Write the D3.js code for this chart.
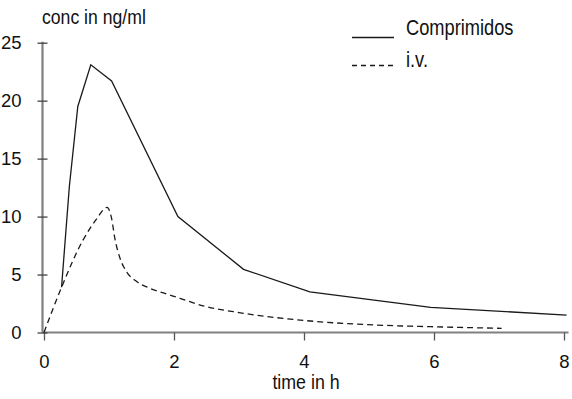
<!DOCTYPE html>
<html>
<head>
<meta charset="utf-8">
<script src="https://cdn.jsdelivr.net/npm/d3@7"></script>
<style>
  body { margin: 0; background: #fff; }
  svg { display: block; }
  text { font-family: "Liberation Sans", Arial, sans-serif; fill: #111; }
</style>
</head>
<body>
<svg id="chart" width="572" height="399"></svg>
<script>
// values
const xTicks = [0, 2, 4, 6, 8];
const yTicks = [0, 5, 10, 15, 20, 25];
const seriesNames = ["Comprimidos", "i.v."];

const comprimidosT = [0.27, 0.39, 0.52, 0.72, 1.04, 2.06, 3.07, 4.09, 5.95, 8.04];
const comprimidosC = [3.9, 12.6, 19.5, 23.1, 21.7, 10.0, 5.45, 3.5, 2.17, 1.5];

const ivT = [0, 0.27, 0.6, 0.81, 0.97, 1.04, 1.09, 1.17, 1.27, 1.43, 1.63, 1.94, 2.09, 2.45, 3.02, 4.04, 5.22, 5.95, 7.04];
const ivC = [0, 3.9, 7.97, 9.8, 10.8, 9.84, 8.12, 6.4, 5.24, 4.38, 3.81, 3.23, 2.95, 2.3, 1.7, 1.02, 0.62, 0.5, 0.36];

const svg = d3.select('#chart');

const x = d3.scaleLinear().domain([0, 8]).range([44, 564]);
const y = d3.scaleLinear().domain([0, 25]).range([332.5, 42.7]);

// axis lines
svg.append('line')
  .attr('x1', x(0) - 1.5).attr('x2', x(8.07))
  .attr('y1', y(0)).attr('y2', y(0))
  .attr('stroke', '#808080').attr('stroke-width', 2.2);
svg.append('line')
  .attr('x1', x(0) - 1.5).attr('x2', x(0) - 1.5)
  .attr('y1', y(0)).attr('y2', y(25) - 1)
  .attr('stroke', '#808080').attr('stroke-width', 2.2);

// x axis
const gx = svg.append('g')
  .attr('transform', 'translate(0,' + y(0) + ')')
  .call(d3.axisBottom(x).tickValues(xTicks).tickSize(8).tickSizeOuter(0).tickPadding(18));
gx.select('.domain').remove();
gx.selectAll('line').attr('stroke', '#555').attr('stroke-width', 1.3);
gx.selectAll('text')
  .attr('font-size', 18.5).attr('font-family', '"Liberation Sans", Arial, sans-serif')
  .attr('fill', '#111').attr('dy', '0.5em');

// y axis, ticks crossing the line
const gy = svg.append('g')
  .attr('transform', 'translate(' + (x(0) - 1.5) + ',0)')
  .call(d3.axisLeft(y).tickValues(yTicks).tickSize(5).tickSizeOuter(0).tickPadding(16));
gy.select('.domain').remove();
gy.selectAll('line').attr('x1', 5).attr('stroke', '#444').attr('stroke-width', 1.3);
gy.selectAll('text')
  .attr('font-size', 18.5).attr('font-family', '"Liberation Sans", Arial, sans-serif')
  .attr('fill', '#111');

// curves
const solidLine = d3.line()
  .x(i => x(comprimidosT[i]))
  .y(i => y(comprimidosC[i]));
const dashLine = d3.line()
  .x(i => x(ivT[i]))
  .y(i => y(ivC[i]))
  .curve(d3.curveMonotoneX);

svg.append('path')
  .attr('d', solidLine(d3.range(comprimidosT.length)))
  .attr('fill', 'none').attr('stroke', '#1a1a1a').attr('stroke-width', 1.3);
svg.append('path')
  .attr('d', dashLine(d3.range(ivT.length)))
  .attr('fill', 'none').attr('stroke', '#1a1a1a').attr('stroke-width', 1.3)
  .attr('stroke-dasharray', '6,4');

// narrow text helper
function label(txt, tx, ty, size, sx, anchor) {
  svg.append('g')
    .attr('transform', 'translate(' + tx + ',' + ty + ') scale(' + sx + ',1)')
    .append('text')
    .attr('font-size', size)
    .attr('text-anchor', anchor || 'start')
    .text(txt);
}

label('conc in ng/ml', 42, 24, 20.5, 0.86);
label('time in h', 306, 389, 20, 0.89, 'middle');

// legend
const legY = [37.5, 65.5];
const legDash = [null, '5,4'];
seriesNames.forEach((name, i) => {
  svg.append('line')
    .attr('x1', 352).attr('x2', 394)
    .attr('y1', legY[i]).attr('y2', legY[i])
    .attr('stroke', '#1a1a1a').attr('stroke-width', 1.3)
    .attr('stroke-dasharray', legDash[i]);
  label(name, 406, legY[i] - 2.5 + (i ? 3.5 : 0), 22, 0.83);
});
</script>
</body>
</html>
